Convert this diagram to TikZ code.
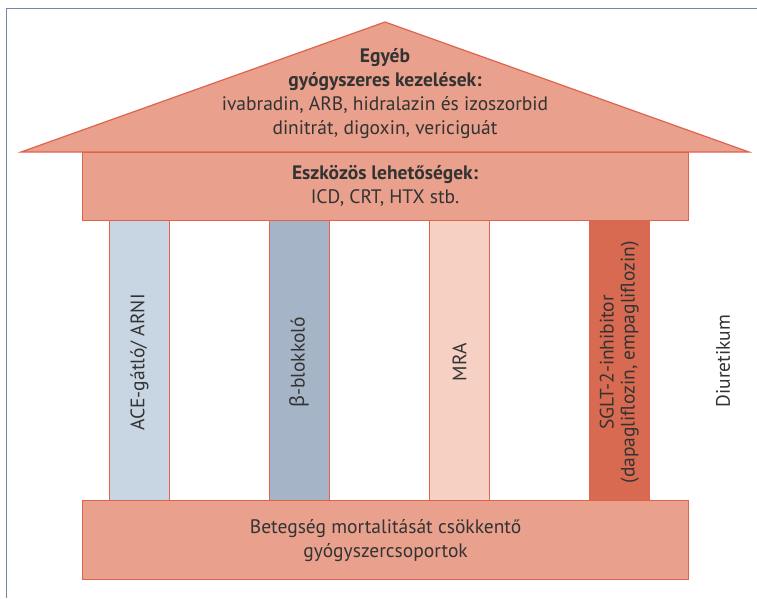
\documentclass[tikz,border=0pt]{standalone}
\usepackage{fontspec}
\setmainfont{PT Sans}
\newfontfamily\grk{Noto Sans}
\definecolor{roof}{HTML}{E9A08C}
\definecolor{edge}{HTML}{E0634E}
\definecolor{acec}{HTML}{C8D5E2}
\definecolor{betac}{HTML}{A5B4C6}
\definecolor{mrac}{HTML}{F5D0C3}
\definecolor{sglc}{HTML}{D96A52}
\definecolor{frame}{HTML}{6F88A3}
\definecolor{txt}{HTML}{333333}
\begin{document}
\begin{tikzpicture}[x=1pt,y=-1pt,
  part/.style={draw=edge,line width=1.2pt,fill=roof},
  pillar/.style={draw=edge,line width=0.8pt},
  lbl/.style={text=txt,align=center,font=\fontsize{19.5}{24}\selectfont,inner sep=0pt},
  vlbl/.style={text=txt,align=center,font=\fontsize{19.5}{21}\selectfont,rotate=90,inner sep=0pt}]
\useasboundingbox (0,0) rectangle (757,598);
\fill[white] (0,0) rectangle (757,598);
\draw[frame,line width=1pt] (6,598) -- (6,8) -- (757,8);
% roof
\filldraw[part] (385,22) -- (749,152) -- (21,152) -- cycle;
\node[lbl] (rooftxt) at (385,94) {\textbf{Egyéb}\\\textbf{gyógyszeres kezelések:}\\ivabradin, ARB, hidralazin és izoszorbid\\dinitrát, digoxin, vericiguát};
% beam
\node[part,minimum width=606pt,minimum height=68pt,anchor=north west] (beam) at (82,152) {};
\node[lbl] (beamtxt) at (385,186) {\textbf{Eszközös lehetőségek:}\\ICD, CRT, HTX stb.};
% pillars
\node[pillar,fill=acec,minimum width=60pt,minimum height=280pt,anchor=north west] (ace) at (109,220) {};
\node[pillar,fill=betac,minimum width=60pt,minimum height=280pt,anchor=north west] (beta) at (269,220) {};
\node[pillar,fill=mrac,minimum width=60pt,minimum height=280pt,anchor=north west] (mra) at (429,220) {};
\node[pillar,fill=sglc,minimum width=60pt,minimum height=280pt,anchor=north west] (sglt) at (589,220) {};
\node[vlbl] (acetxt) at ([yshift=-2pt]ace.center) {ACE-gátló/ ARNI};
\node[vlbl] (betatxt) at ([yshift=-2pt]beta.center) {{\grk β}-blokkoló};
\node[vlbl] (mratxt) at ([yshift=-2pt]mra.center) {MRA};
\node[vlbl] (sglttxt) at ([yshift=-2pt]sglt.center) {SGLT-2-inhibitor\\(dapagliflozin, empagliflozin)};
\node[vlbl] (diur) at (723,361) {Diuretikum};
% base
\node[part,minimum width=606pt,minimum height=79pt,anchor=north west] (base) at (82,500) {};
\node[lbl] (basetxt) at (base.center) {Betegség mortalitását csökkentő\\gyógyszercsoportok};
\end{tikzpicture}
\end{document}
